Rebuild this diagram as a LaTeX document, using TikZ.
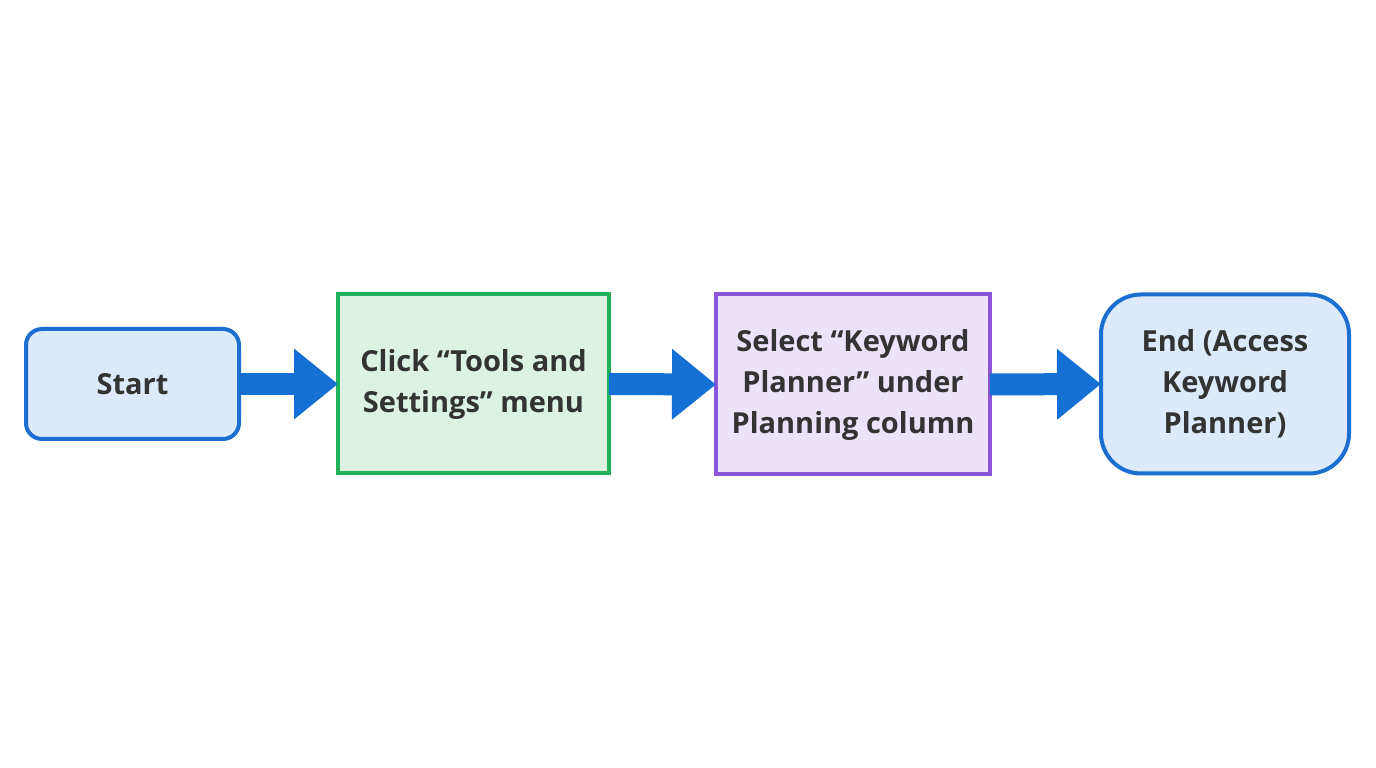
\documentclass[tikz,border=0pt]{standalone}
\usepackage{fontspec}
\setmainfont{Open Sans}
\usetikzlibrary{arrows.meta}
\definecolor{bb}{HTML}{1B6FD0}
\definecolor{bf}{HTML}{DCEAFB}
\definecolor{gb}{HTML}{22B35A}
\definecolor{gf}{HTML}{DCF3E4}
\definecolor{pb}{HTML}{8A55D8}
\definecolor{pf}{HTML}{ECE3FA}
\definecolor{ar}{HTML}{1570D6}
\definecolor{tx}{HTML}{333333}
\begin{document}
\begin{tikzpicture}[x=1pt,y=1pt,
  box/.style={draw,line width=4pt,align=center,font=\fontsize{29}{41}\selectfont\bfseries,text=tx,inner sep=0pt},
  flow/.style={ar,line width=22pt,-{Triangle[length=44pt,width=68pt]},shorten <=-2pt,shorten >=-2pt}]
\useasboundingbox (0,0) rectangle (1376,768);
\fill[white] (0,0) rectangle (1376,768);
\node[box,draw=bb,fill=bf,rounded corners=16pt,minimum width=213pt,minimum height=110pt] (s) at (132.5,384) {Start};
\node[box,draw=gb,fill=gf,minimum width=271pt,minimum height=179pt] (c) at (473.5,384) {Click “Tools and\\Settings” menu};
\node[box,draw=pb,fill=pf,minimum width=274pt,minimum height=180pt] (k) at (853,383.5) {Select “Keyword\\Planner” under\\Planning column};
\node[box,draw=bb,fill=bf,rounded corners=40pt,minimum width=248pt,minimum height=179pt] (e) at (1225,384) {End (Access\\Keyword\\Planner)};
\draw[flow] (s.east) -- (c.west);
\draw[flow] (c.east) -- (k.west);
\draw[flow] (k.east) -- (e.west);
\end{tikzpicture}
\end{document}
